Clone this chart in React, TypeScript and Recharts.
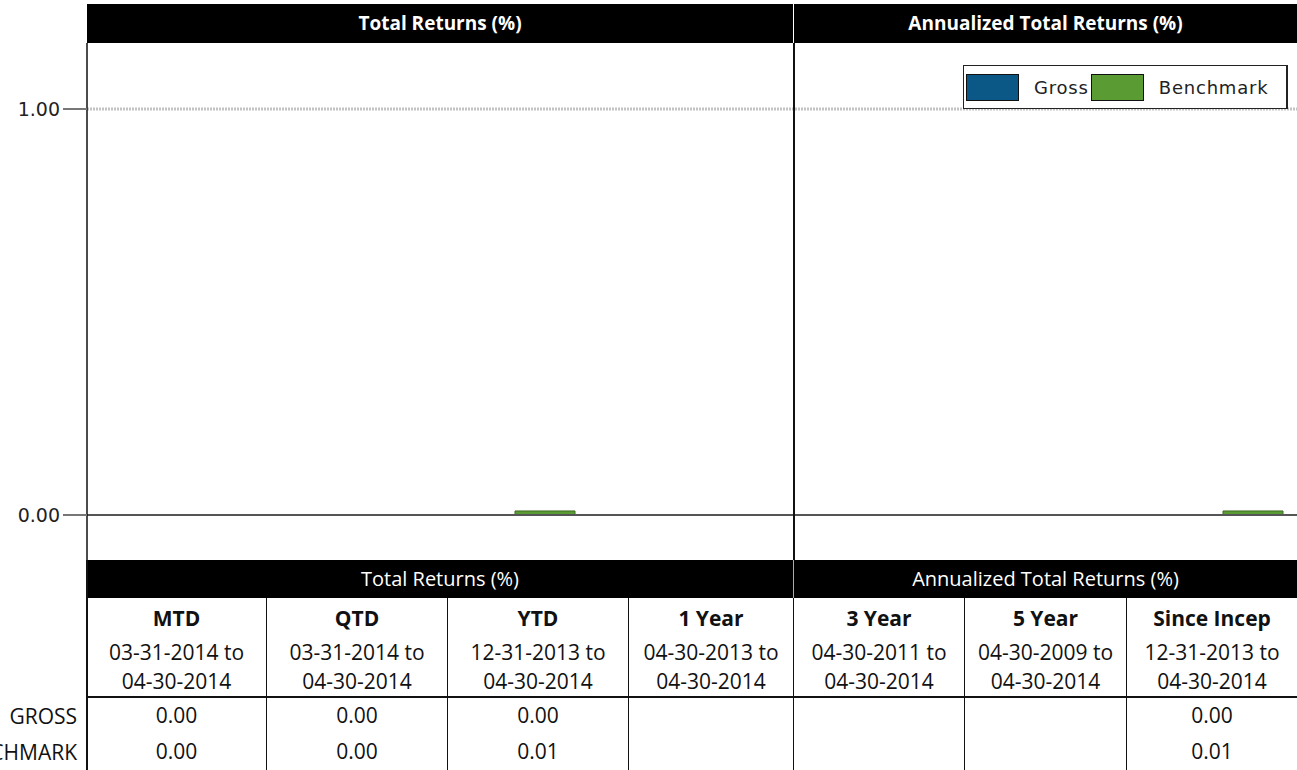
import React from "react";
import {
  BarChart,
  Bar,
  XAxis,
  YAxis,
  Legend,
  ReferenceLine,
} from "recharts";

// Periods (chart categories / table columns)
const categories = ["MTD", "QTD", "YTD", "1 Year", "3 Year", "5 Year", "Since Incep"];
const periodStart = [
  "03-31-2014",
  "03-31-2014",
  "12-31-2013",
  "04-30-2013",
  "04-30-2011",
  "04-30-2009",
  "12-31-2013",
];
const periodEnd = [
  "04-30-2014",
  "04-30-2014",
  "04-30-2014",
  "04-30-2014",
  "04-30-2014",
  "04-30-2014",
  "04-30-2014",
];
const grossValues: (number | null)[] = [0, 0, 0, null, null, null, 0];
const benchmarkValues: (number | null)[] = [0, 0, 0.01, null, null, null, 0.01];
const yTicks = [0, 1];
const seriesOrder = ["gross", "benchmark"];
const rowLabels = ["GROSS", "BENCHMARK"];
const groupTitles = ["Total Returns (%)", "Annualized Total Returns (%)"];
const groupSpans = [4, 3];

const GROSS_COLOR = "#0b5786";
const BENCH_COLOR = "#5b9b33";

const data = categories.map((c, i) => ({
  name: c,
  gross: grossValues[i],
  benchmark: benchmarkValues[i],
}));

// table column edges (px)
const colEdges = [87, 266, 447, 628, 793, 964, 1126, 1297];
const tableFont = "'Open Sans', 'Noto Sans', sans-serif";
const chartFont = "'DejaVu Sans', Verdana, sans-serif";

function LegendBox({ payload }: any) {
  const items = [...(payload || [])].sort(
    (a: any, b: any) => seriesOrder.indexOf(a.dataKey) - seriesOrder.indexOf(b.dataKey)
  );
  return (
    <div
      style={{
        width: 322,
        height: 42,
        background: "#fff",
        border: "1px solid #222",
        borderRightWidth: 2,
        display: "flex",
        alignItems: "center",
        fontFamily: chartFont,
        fontSize: 18,
        letterSpacing: 0.8,
        color: "#222",
      }}
    >
      {items.map((p: any, i: number) => (
        <React.Fragment key={i}>
          <div
            style={{
              width: 51,
              height: 25,
              background: p.color,
              border: "1px solid #111",
              marginLeft: 2,
            }}
          />
          <span style={{ marginLeft: 15 }}>{p.value}</span>
        </React.Fragment>
      ))}
    </div>
  );
}

const fmt = (v: number | null) => (v == null ? "" : v.toFixed(2));

export default function App() {
  const colW = (i: number) => colEdges[i + 1] - colEdges[i];
  let spanStart = 0;
  return (
    <div
      style={{
        position: "relative",
        width: 1297,
        height: 770,
        overflow: "hidden",
        background: "#fff",
      }}
    >
      <style>{"body{margin:0}"}</style>

      {/* chart title band */}
      {groupTitles.map((t, g) => {
        const s = spanStart;
        spanStart += groupSpans[g];
        const left = s === 0 ? 87 : colEdges[s] + 1;
        const right = colEdges[s + groupSpans[g]];
        return (
          <div
            key={t}
            style={{
              position: "absolute",
              top: 4,
              left,
              width: right - left,
              height: 39,
              background: "#000",
              color: "#fff",
              fontFamily: tableFont,
              fontWeight: 700,
              fontSize: 19,
              lineHeight: "39px",
              textAlign: "center",
            }}
          >
            {t}
          </div>
        );
      })}

      <div style={{ position: "absolute", top: 0, left: 0 }}>
        <BarChart
          width={1316}
          height={560}
          data={data}
          margin={{ top: 43, right: 5, left: 7, bottom: 0 }}
          barSize={60}
          barGap={0}
        >
          <XAxis dataKey="name" hide padding={{ left: -15, right: 0 }} />
          <YAxis
            width={80}
            type="number"
            domain={[-0.1108, 1.1626]}
            allowDataOverflow
            ticks={yTicks}
            tickFormatter={(v: number) => v.toFixed(2)}
            tick={{ fontFamily: chartFont, fontSize: 19, fill: "#222" }}
            tickSize={24}
            tickMargin={3}
            tickLine={{ stroke: "#777", strokeWidth: 2 }}
            axisLine={{ stroke: "#111", strokeWidth: 1.5 }}
          />
          <ReferenceLine y={1} stroke="#c4c4c4" strokeWidth={3} strokeDasharray="2 1" />
          <ReferenceLine y={0} stroke="#555" strokeWidth={2} />
          <Legend
            verticalAlign="middle"
            align="center"
            layout="horizontal"
            wrapperStyle={{ top: 65, left: 963, width: 324 }}
            content={<LegendBox />}
          />
          <Bar
            dataKey="gross"
            name="Gross"
            fill={GROSS_COLOR}
            stroke="#08324f"
            isAnimationActive={false}
          />
          <Bar
            dataKey="benchmark"
            name="Benchmark"
            fill={BENCH_COLOR}
            stroke="#3d6b22"
            isAnimationActive={false}
          />
        </BarChart>
      </div>

      {/* divider between total / annualized */}
      <div
        style={{
          position: "absolute",
          top: 43,
          left: 793,
          width: 1.5,
          height: 517,
          background: "#111",
        }}
      />

      {/* table: group header */}
      <div
        style={{
          position: "absolute",
          top: 560,
          left: 87,
          width: 1210,
          height: 38,
          background: "#000",
        }}
      />
      {(() => {
        let s0 = 0;
        return groupTitles.map((t, g) => {
          const s = s0;
          s0 += groupSpans[g];
          const left = colEdges[s];
          const right = colEdges[s + groupSpans[g]];
          return (
            <div
              key={"h" + t}
              style={{
                position: "absolute",
                top: 560,
                left,
                width: right - left,
                height: 38,
                color: "#fff",
                fontFamily: tableFont,
                fontSize: 20,
                lineHeight: "38px",
                textAlign: "center",
                borderLeft: g > 0 ? "1px solid #aaa" : "none",
                boxSizing: "border-box",
              }}
            >
              {t}
            </div>
          );
        });
      })()}

      {/* left border */}
      <div
        style={{
          position: "absolute",
          top: 560,
          left: 86,
          width: 1.5,
          height: 210,
          background: "#111",
        }}
      />

      {/* column headers and values */}
      {categories.map((c, i) => (
        <div
          key={c}
          style={{
            position: "absolute",
            top: 598,
            left: colEdges[i],
            width: colW(i),
            height: 172,
            borderLeft: i > 0 ? "1px solid #111" : "none",
            boxSizing: "border-box",
            fontFamily: tableFont,
            fontSize: 21,
            color: "#111",
            textAlign: "center",
            whiteSpace: "nowrap",
          }}
        >
          <div style={{ marginTop: 6, lineHeight: "29px", fontWeight: 700 }}>{c}</div>
          <div style={{ marginTop: 5, lineHeight: "29px" }}>{periodStart[i]} to</div>
          <div style={{ lineHeight: "29px" }}>{periodEnd[i]}</div>
          <div style={{ marginTop: 5, lineHeight: "29px", height: 29 }}>{fmt(grossValues[i])}</div>
          <div style={{ marginTop: 7, lineHeight: "29px", height: 29 }}>
            {fmt(benchmarkValues[i])}
          </div>
        </div>
      ))}

      {/* row rule under headers */}
      <div
        style={{
          position: "absolute",
          top: 696,
          left: 87,
          width: 1210,
          height: 1.5,
          background: "#111",
        }}
      />

      {/* row labels */}
      {rowLabels.map((r, k) => (
        <div
          key={r}
          style={{
            position: "absolute",
            top: k === 0 ? 702 : 738,
            right: 1297 - 77,
            whiteSpace: "nowrap",
            fontFamily: tableFont,
            fontSize: 21,
            lineHeight: "29px",
            color: "#111",
          }}
        >
          {r}
        </div>
      ))}
    </div>
  );
}
